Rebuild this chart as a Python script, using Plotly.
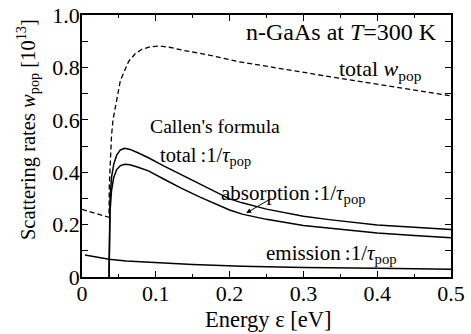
import plotly.graph_objects as go

# ---- data ----
e_total_w = [0.0, 0.01, 0.02, 0.03, 0.0366, 0.037, 0.038, 0.040, 0.042, 0.045, 0.052, 0.063,
             0.072, 0.081, 0.092, 0.104, 0.12, 0.1355, 0.172, 0.212, 0.25, 0.3, 0.35, 0.4, 0.45, 0.5]
w_total = [0.258, 0.250, 0.242, 0.233, 0.228, 0.35, 0.44, 0.54, 0.60, 0.65, 0.75, 0.822,
           0.852, 0.869, 0.878, 0.882, 0.876, 0.866, 0.847, 0.822, 0.804, 0.782, 0.758, 0.736, 0.713, 0.691]

e_callen = [0.0366, 0.037, 0.038, 0.040, 0.043, 0.047, 0.052, 0.058, 0.065, 0.075, 0.09, 0.11,
            0.135, 0.16, 0.18, 0.2, 0.217, 0.25, 0.3, 0.335, 0.4, 0.45, 0.5]
tau_total = [0.0, 0.2, 0.3, 0.38, 0.43, 0.465, 0.485, 0.491, 0.487, 0.475, 0.455, 0.425,
             0.39, 0.355, 0.325, 0.298, 0.283, 0.259, 0.232, 0.219, 0.198, 0.189, 0.181]
tau_abs = [0.0, 0.15, 0.25, 0.33, 0.38, 0.41, 0.425, 0.430, 0.428, 0.42, 0.405, 0.375,
           0.338, 0.305, 0.281, 0.256, 0.240, 0.220, 0.197, 0.187, 0.168, 0.158, 0.150]

e_em = [0.004, 0.02, 0.0366, 0.06, 0.1, 0.15, 0.217, 0.3, 0.4, 0.5]
tau_em = [0.084, 0.075, 0.068, 0.061, 0.054, 0.048, 0.041, 0.036, 0.033, 0.030]

x_ticks = [0, 0.1, 0.2, 0.3, 0.4, 0.5]
x_ticktext = ["0", "0.1", "0.2", "0.3", "0.4", "0.5"]
y_ticks = [0, 0.2, 0.4, 0.6, 0.8, 1.0]
y_ticktext = ["0", "0.2", "0.4", "0.6", "0.8", "1.0"]

FONT = "Liberation Serif, Times New Roman, serif"

fig = go.Figure()
fig.add_trace(go.Scatter(x=e_total_w, y=w_total, mode="lines",
                         line=dict(color="black", width=1.3, dash="5px,3px")))
fig.add_trace(go.Scatter(x=e_callen, y=tau_total, mode="lines",
                         line=dict(color="black", width=1.5)))
fig.add_trace(go.Scatter(x=e_callen, y=tau_abs, mode="lines",
                         line=dict(color="black", width=1.5)))
fig.add_trace(go.Scatter(x=e_em, y=tau_em, mode="lines",
                         line=dict(color="black", width=1.5)))

tau = "\u2009:1/<i>τ</i><sub>pop</sub>"
ann = [
    dict(x=0.484, y=0.936, text="n-GaAs at <i>T</i>=300 K", xanchor="right", size=24),
    dict(x=0.4637, y=0.79, text="total <i>w</i><sub>pop</sub>", xanchor="right", size=22),
    dict(x=0.0893, y=0.578, text="Callen's formula", xanchor="left", size=19.7),
    dict(x=0.1028, y=0.46, text="total" + tau, xanchor="left", size=20.5),
    dict(x=0.1863, y=0.318, text="absorption" + tau, xanchor="left", size=21),
    dict(x=0.247, y=0.088, text="emission" + tau, xanchor="left", size=21),
]
annotations = []
for a in ann:
    size = a.pop("size")
    a.update(xref="x", yref="y", showarrow=False, yanchor="middle",
             font=dict(family=FONT, size=size, color="black"))
    annotations.append(a)

annotations.append(dict(x=0.2225, y=0.244, ax=0.2585, ay=0.303, xref="x", yref="y",
                        axref="x", ayref="y", text="", showarrow=True, arrowhead=2,
                        arrowsize=1, arrowwidth=1, arrowcolor="black"))
annotations.append(dict(x=-0.149, y=0.561, xref="paper", yref="paper", textangle=-90,
                        text="Scattering rates <i>w</i><sub>pop</sub> [10<sup>13</sup>]",
                        showarrow=False, xanchor="center", yanchor="middle",
                        font=dict(family=FONT, size=20.5, color="black")))
annotations.append(dict(x=0.506, y=-0.164, xref="paper", yref="paper",
                        text="Energy ε [eV]", showarrow=False, xanchor="center", yanchor="middle",
                        font=dict(family=FONT, size=22.5, color="black")))

axis_common = dict(showline=True, linecolor="black", linewidth=1.5, mirror="ticks",
                   ticks="inside", ticklen=6, tickwidth=1, tickcolor="black",
                   showgrid=False, zeroline=False, ticklabeloverflow="allow",
                   ticklabelstandoff=-4,
                   tickfont=dict(family=FONT, size=22, color="black"))

fig.update_layout(
    width=471, height=334,
    margin=dict(l=82, r=20, t=15, b=57, autoexpand=False),
    paper_bgcolor="white", plot_bgcolor="white",
    showlegend=False,
    font=dict(family=FONT, color="black"),
    xaxis=dict(range=[0, 0.5], tickvals=x_ticks, ticktext=x_ticktext,
               minor=dict(dtick=0.05, ticklen=3.5, tickcolor="black", ticks="inside"),
               **axis_common),
    yaxis=dict(range=[0, 1.0], tickvals=y_ticks, ticktext=y_ticktext,
               minor=dict(dtick=0.1, ticklen=6, tickcolor="black", ticks="inside"),
               **axis_common),
    annotations=annotations,
)

# remove the default 8px body margin so the figure fills the window exactly
fig.write_html("out.html", config={"displayModeBar": False},
               post_script="document.body.style.margin='0';")
